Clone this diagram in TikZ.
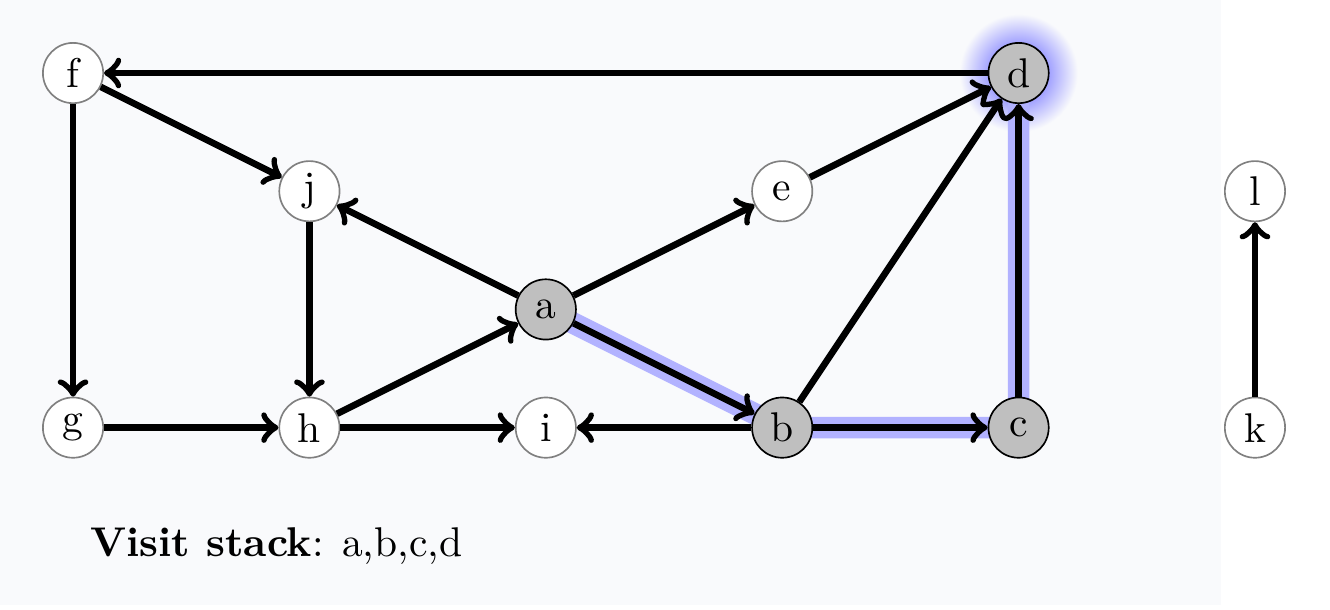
\documentclass[tikz,border=0pt]{standalone}
\definecolor{bgcol}{RGB}{249,250,252}
\definecolor{glowcol}{RGB}{160,160,255}
\definecolor{hlcol}{RGB}{178,178,255}
\pgfdeclareradialshading{dglow}{\pgfpointorigin}{color(0bp)=(glowcol); color(12.5bp)=(glowcol); color(25bp)=(bgcol); color(50bp)=(bgcol)}
\tikzset{
  vtx/.style={circle, draw=gray, fill=white, minimum size=0.51cm, inner sep=0pt, font=\normalsize},
  visited/.style={vtx, draw=black, fill=black!25},
  edge/.style={->, line width=1.6pt},
  hl/.style={line width=5.2pt, draw=hlcol},
}
\begin{document}
\begin{tikzpicture}
\useasboundingbox (-0.618,-1.535) rectangle (10.635,3.618);
\fill[bgcol] (-0.618,-1.501) rectangle (9.712,3.618);
% glow around d
\shade[shading=dglow] (8,3) circle (0.5cm);
% coordinates for highlight
\coordinate (pa) at (4,1);
\coordinate (pb) at (6,0);
\coordinate (pc) at (8,0);
\coordinate (pd) at (8,3);
\draw[hl] (pa) -- (pb) -- (pc) -- (pd);
% nodes
\node[vtx] (f) at (0,3) {f};
\node[vtx] (j) at (2,2) {j};
\node[visited] (a) at (4,1) {a};
\node[vtx] (e) at (6,2) {e};
\node[visited] (d) at (8,3) {d};
\node[vtx] (l) at (10,2) {l};
\node[vtx] (g) at (0,0) {g};
\node[vtx] (h) at (2,0) {h};
\node[vtx] (i) at (4,0) {i};
\node[visited] (b) at (6,0) {b};
\node[visited] (c) at (8,0) {c};
\node[vtx] (k) at (10,0) {k};
% edges
\draw[edge] (d) -- (f);
\draw[edge] (f) -- (j);
\draw[edge] (f) -- (g);
\draw[edge] (j) -- (h);
\draw[edge] (a) -- (j);
\draw[edge] (a) -- (e);
\draw[edge] (e) -- (d);
\draw[edge] (b) -- (d);
\draw[edge] (h) -- (a);
\draw[edge] (g) -- (h);
\draw[edge] (h) -- (i);
\draw[edge] (b) -- (i);
\draw[edge] (a) -- (b);
\draw[edge] (b) -- (c);
\draw[edge] (c) -- (d);
\draw[edge] (k) -- (l);
\node[anchor=west, inner sep=0pt] (stack) at (0.14,-1) {\textbf{Visit stack}: a,b,c,d};
\end{tikzpicture}
\end{document}
